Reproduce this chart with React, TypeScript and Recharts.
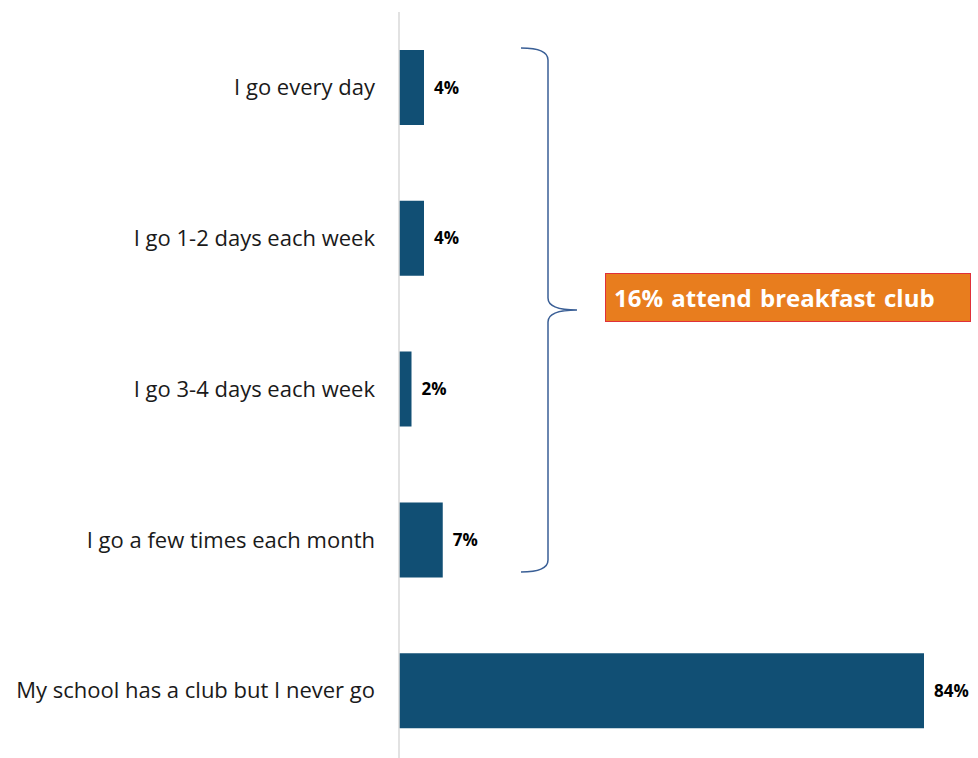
import { BarChart, Bar, XAxis, YAxis, ReferenceLine, LabelList } from 'recharts'

const categories = [
  'I go every day',
  'I go 1-2 days each week',
  'I go 3-4 days each week',
  'I go a few times each month',
  'My school has a club but I never go',
]
const shares = [4, 4, 2, 7, 84]
const calloutText = '16% attend breakfast club'

const data = categories.map((label, i) => ({ label, value: shares[i] }))

const FONT = '"Open Sans", "Noto Sans", sans-serif'

export default function App(): React.ReactElement {
  return (
    <div
      style={{
        position: 'absolute',
        left: 0,
        top: 0,
        width: 978,
        height: 758,
        overflow: 'hidden',
        background: '#fff',
        fontFamily: FONT,
      }}
    >
      <BarChart
        width={978}
        height={766}
        data={data}
        layout="vertical"
        margin={{ top: 12, right: 54, bottom: 0, left: 0 }}
        barCategoryGap="25%"
      >
        <XAxis type="number" domain={[0, 84]} hide />
        <YAxis
          type="category"
          dataKey="label"
          width={399}
          axisLine={false}
          tickLine={false}
          tickMargin={18}
          tick={{ fill: '#1a1a1a', fontSize: 22, fontFamily: FONT }}
        />
        <ReferenceLine x={0} stroke="#d9d9d9" strokeWidth={1.5} />
        <Bar dataKey="value" fill="#114f74" barSize={75} isAnimationActive={false}>
          <LabelList
            dataKey="value"
            position="right"
            offset={10}
            formatter={(v: number) => `${v}%`}
            style={{ fill: '#000', fontSize: 17, fontWeight: 700, fontFamily: FONT }}
          />
        </Bar>
      </BarChart>
      <svg
        width={978}
        height={758}
        style={{ position: 'absolute', left: 0, top: 0, pointerEvents: 'none' }}
      >
        <path
          d="M521,48 Q548,48 548,60 L548,298 Q548,310 577,310 Q548,310 548,322 L548,560 Q548,572 521,572"
          fill="none"
          stroke="#3a5f96"
          strokeWidth={1.5}
        />
      </svg>
      <div
        style={{
          position: 'absolute',
          left: 605,
          top: 273,
          width: 356,
          height: 47,
          background: '#e87d1e',
          border: '1px solid #e0303a',
          color: '#fff',
          fontWeight: 700,
          fontSize: 24,
          lineHeight: '47px',
          paddingLeft: 8,
          boxSizing: 'content-box',
          wordSpacing: 2,
          whiteSpace: 'nowrap',
        }}
      >
        {calloutText}
      </div>
    </div>
  )
}
